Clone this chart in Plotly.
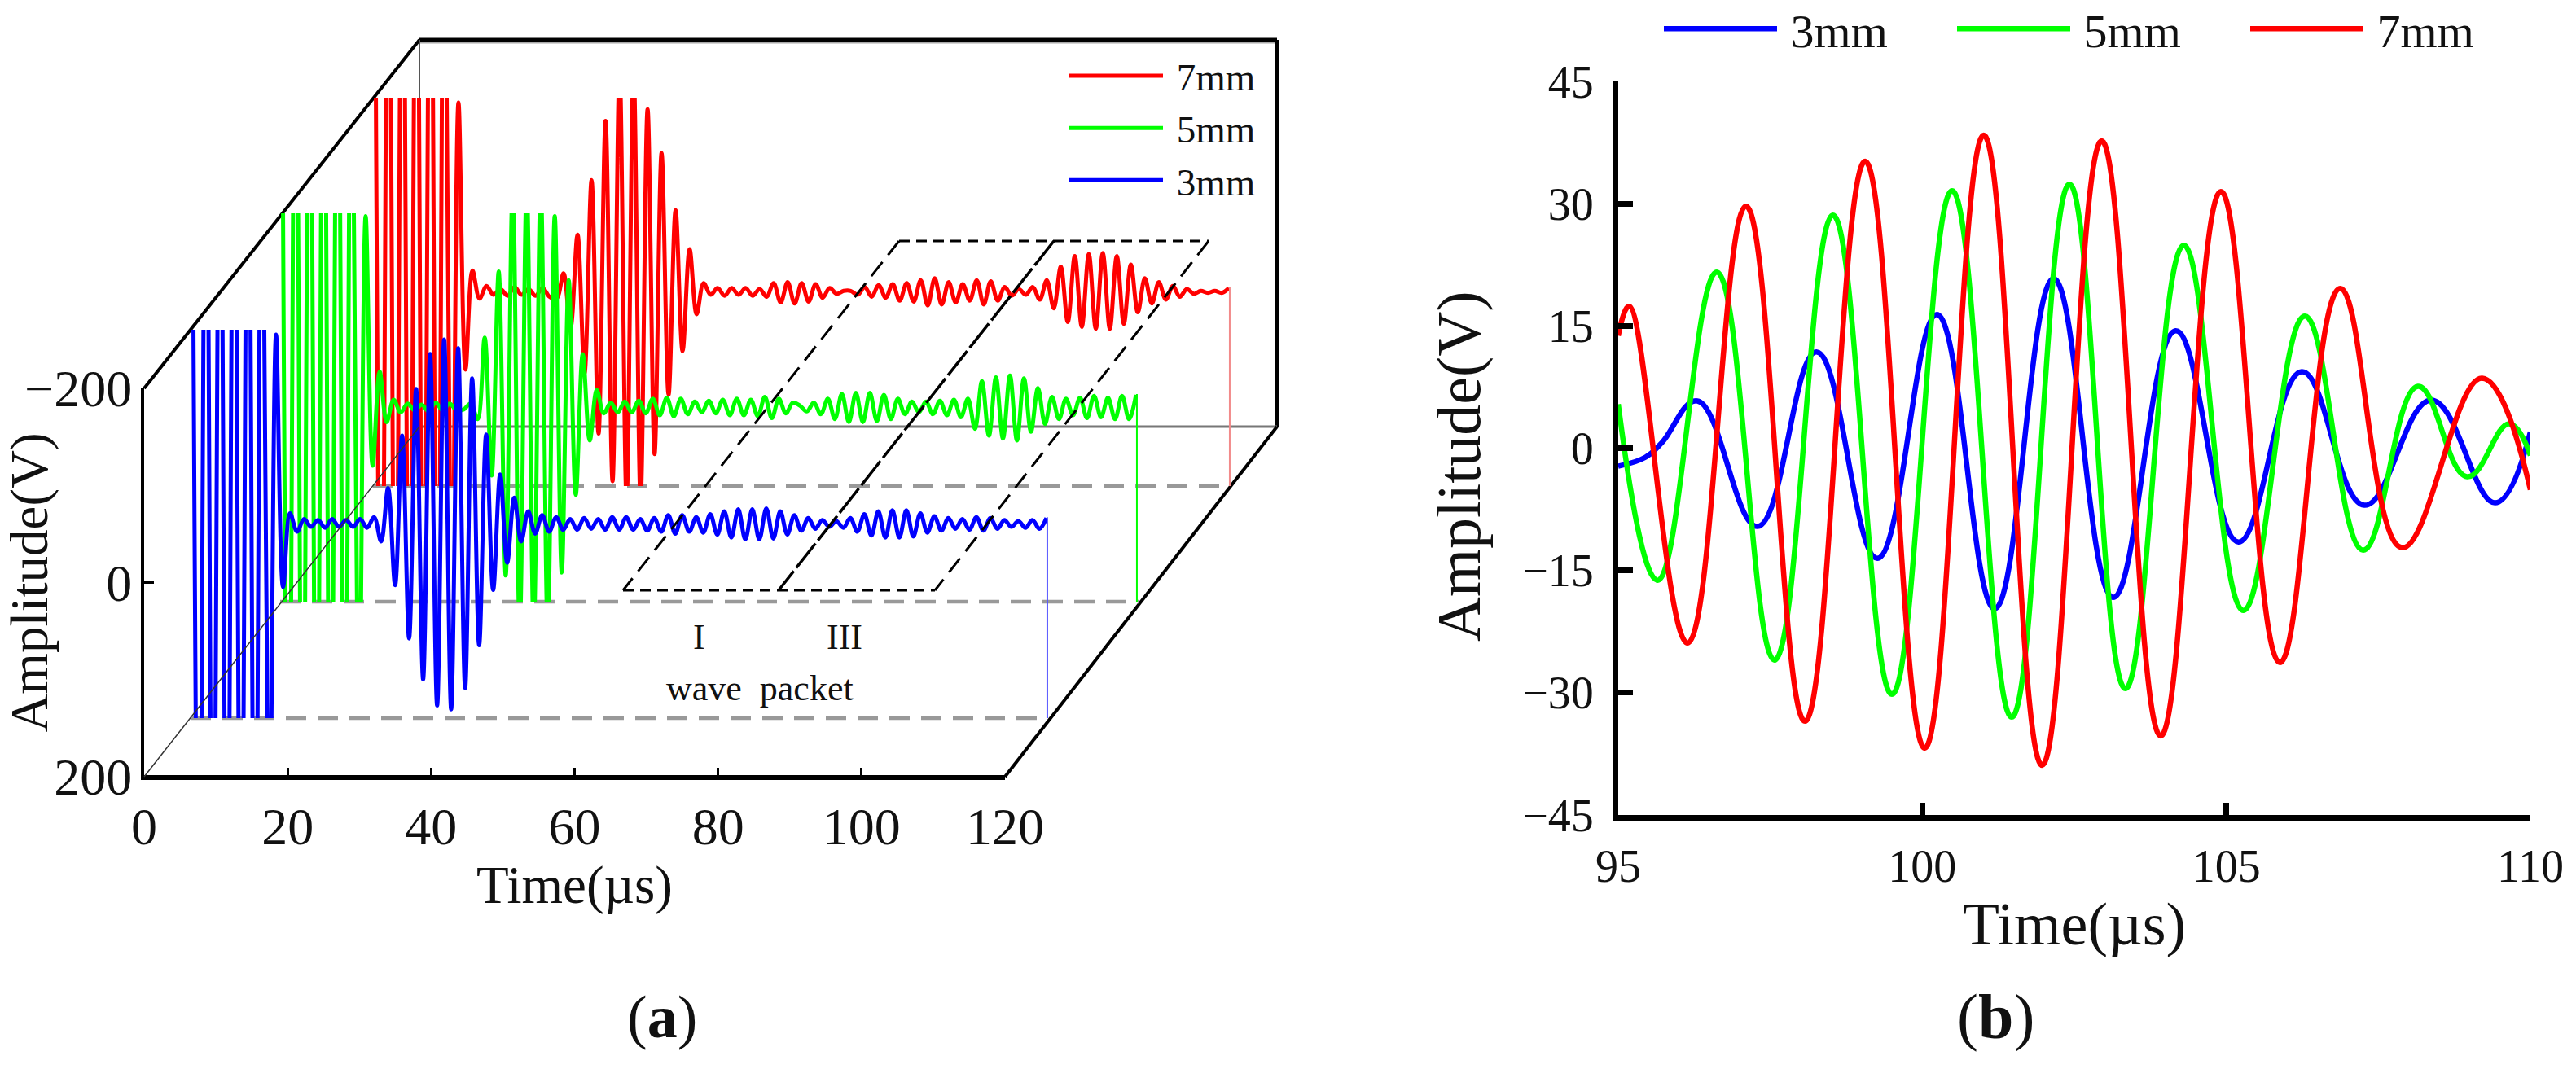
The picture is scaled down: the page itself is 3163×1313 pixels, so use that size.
import plotly.graph_objects as go

W, H = 3163, 1313
FONT = "Liberation Serif"
INK = "#111111"
RED, GREEN, BLUE = "#ff0000", "#00ff00", "#0000ff"

# ---- panel (a): peak-by-peak readings of the three waveforms
time_a = [0.2,1.18,2.16,3.14,4.12,5.1,6.08,7.06,8.04,9.02,10.0,10.98,11.96,12.94,13.92,14.9,15.88,16.86,17.84,18.82,
          19.8,20.78,21.76,22.74,23.72,24.7,25.68,26.66,27.64,28.62,29.6,30.58,31.56,32.54,33.52,34.5,35.48,36.46,37.44,38.42,
          39.4,40.38,41.36,42.34,43.32,44.3,45.28,46.26,47.24,48.22,49.2,50.18,51.16,52.14,53.12,54.1,55.08,56.06,57.04,58.02,
          59.0,59.98,60.96,61.94,62.92,63.9,64.88,65.86,66.84,67.82,68.8,69.78,70.76,71.74,72.72,73.7,74.68,75.66,76.64,77.62,
          78.6,79.58,80.56,81.54,82.52,83.5,84.48,85.46,86.44,87.42,88.4,89.38,90.36,91.34,92.32,93.3,94.28,95.26,96.24,97.22,
          98.2,99.18,100.16,101.14,102.12,103.1,104.08,105.06,106.04,107.02,108.0,108.98,109.96,110.94,111.92,112.9,113.88,114.86,115.84,116.82,
          117.8,118.78,119.76]
blue_a = [-500,500,-500,500,-500,500,-500,500,-500,500,-500,400,-195,65,-11,8,-5,3,-4,4,
          -5,3,-4,3,-5,4,-7,18,-37,63,-91,118,-139,160,-175,187,-190,191,-181,169,
          -150,125,-92,68,-51,40,-27,18,-13,10,-9,8,-7,6,-5,6,-6,5,-5,6,
          -7,6,-7,6,-5,7,-6,8,-9,10,-9,8,-7,9,-10,11,-13,14,-15,16,
          -15,16,-16,15,-13,11,-9,7,-6,5,-4,3,-3,4,-6,8,-10,12,-13,14,
          -14,14,-14,13,-11,9,-8,7,-6,5,-5,6,-7,7,-6,5,-4,3,-3,4,
          -4,5,-6]
green_a = [-500,500,-500,500,-500,500,-500,500,-500,500,-500,400,-197,60,-37,15,-8,5,-4,3,
           -3,4,-5,3,-4,3,2,-4,12,-72,70,-140,173,-230,230,-230,230,-230,230,-197,
           170,-131,90,-55,34,-18,6,-5,5,-6,5,-7,6,-9,8,-10,9,-9,7,-6,
           5,-7,6,-8,8,-9,8,-8,9,-11,11,-9,6,-5,-2,4,-5,7,-9,12,
           -14,15,-15,15,-15,14,-13,12,-9,7,-6,5,-6,7,-7,8,-8,10,-9,22,
           -27,29,-31,32,-33,34,-30,25,-20,17,-11,12,-9,8,-10,11,-12,10,-10,12,
           -12,12,-13]
red_a = [-500,500,-500,500,-500,500,-500,500,-500,500,-500,400,-195,80,-22,7,-6,3,-3,4,
         -5,3,-3,4,-4,5,7,-19,37,-59,84,-115,146,-176,195,-230,215,-230,215,-188,
         167,-143,106,-84,61,-44,23,-9,3,-4,4,-4,3,-4,4,-3,5,-9,11,-10,
         12,-9,10,-8,6,-4,2,-1,-1,3,-5,5,-7,6,-8,9,-9,10,-12,14,
         -14,13,-10,11,-8,9,-12,13,-11,9,-5,4,-3,3,-5,8,-12,17,-26,31,
         -37,36,-39,38,-40,38,-37,33,-28,21,-14,12,-10,8,-6,5,-3,2,-1,1,
         -1,1,-4]
assert len(time_a) == len(blue_a) == len(green_a) == len(red_a)
end_time = [119.76, 120]
x_ticks_a = [0, 20, 40, 60, 80, 100, 120]
y_ticks_a = [-200, 0, 200]

# ---- panel (b): extrema read from the zoomed window
blue_t = [95,95.45,95.72,96.3,97.29,98.26,99.26,100.24,101.19,102.16,103.14,104.17,105.2,106.24,107.27,108.37,109.42,110]
blue_v = [-2.2,-1.1,0.7,5.8,-9.6,11.8,-13.5,16.4,-19.7,20.8,-18.3,14.4,-11.5,9.4,-7.0,5.9,-6.7,2.0]
green_t = [95,95.65,96.62,97.57,98.53,99.5,100.49,101.47,102.42,103.34,104.3,105.28,106.29,107.25,108.15,108.96,109.65,110]
green_v = [5.4,-16.2,21.6,-26,28.6,-30.2,31.6,-33,32.4,-29.5,24.9,-19.9,16.2,-12.5,7.6,-3.5,3.0,-0.9]
red_t = [95,95.18,96.14,97.1,98.07,99.06,100.04,101.01,101.97,102.95,103.92,104.91,105.88,106.87,107.89,109.2,110]
red_v = [13.8,17.4,-23.9,29.7,-33.5,35.2,-36.8,38.4,-38.9,37.7,-35.3,31.5,-26.3,19.6,-12.2,8.6,-5.1]
x_ticks_b = [95, 100, 105, 110]
y_ticks_b = [-45, -30, -15, 0, 15, 30, 45]


def fx(px):
    return px / W


def fy(py):
    return 1 - py / H


def font(size, color=INK):
    return dict(family=FONT, size=size, color=color)


fig = go.Figure()

# front axes of panel (a)
fig.add_trace(go.Scatter(x=[0, 120], y=[200, 200], mode="lines", line=dict(color="black", width=4),
                         showlegend=False, hoverinfo="skip", xaxis="x", yaxis="y"))

planes = [("x2", "y2", "\u00a07mm", red_a, RED, "#f28a8a", 458),
          ("x3", "y3", "\u00a05mm", green_a, GREEN, GREEN, 344),
          ("x4", "y4", "\u00a03mm", blue_a, BLUE, "#5a5aff", 234)]
plane_bottom = {"x2": 597, "x3": 739, "x4": 882}
for xa, ya, name, vals, col, thin, left in planes:
    fig.add_trace(go.Scatter(x=time_a, y=vals, mode="lines", name=name, legend="legend",
                             line=dict(color=col, width=5, shape="spline", smoothing=1.0),
                             xaxis=xa, yaxis=ya))
    fig.add_trace(go.Scatter(x=end_time, y=[vals[-1], 200], mode="lines", showlegend=False,
                             line=dict(color=thin, width=2, shape="hvh"), xaxis=xa, yaxis=ya))

# panel (b)
for name, t, v, col in (("\u20093mm", blue_t, blue_v, BLUE), ("\u20095mm", green_t, green_v, GREEN), ("\u20097mm", red_t, red_v, RED)):
    fig.add_trace(go.Scatter(x=t, y=v, mode="lines", name=name, legend="legend2",
                             line=dict(color=col, width=6.5, shape="spline", smoothing=1.2),
                             xaxis="x5", yaxis="y5"))

layout_axes = dict(
    xaxis=dict(domain=[fx(177), fx(1234)], range=[0, 120], tickvals=x_ticks_a, ticks="inside", ticklen=11, tickwidth=3,
               tickcolor="black", showline=True, linecolor="black", linewidth=4, showgrid=False, zeroline=False,
               tickfont=font(64), ticklabelstandoff=2, anchor="y",
               title=dict(text="Time(µs)", font=font(65), standoff=14)),
    yaxis=dict(domain=[fy(954), fy(477)], range=[200, -200], tickvals=y_ticks_a, ticks="inside", ticklen=12, tickwidth=3,
               tickcolor="black", showline=True, linecolor="black", linewidth=4, showgrid=False, zeroline=False,
               tickfont=font(64), ticklabelstandoff=-2, anchor="x",
               title=dict(text="Amplitude(V)", font=font(65), standoff=12)),
    xaxis5=dict(domain=[fx(1987), fx(3107)], range=[95, 110], tickvals=x_ticks_b, ticks="inside", ticklen=15, tickwidth=7,
                tickcolor="black", showline=True, linecolor="black", linewidth=7, showgrid=False, zeroline=False,
                tickfont=font(56), ticklabelstandoff=8, anchor="y5",
                title=dict(text="Time(µs)", font=font(74), standoff=16)),
    yaxis5=dict(domain=[fy(1001), fy(100)], range=[-45, 45], tickvals=y_ticks_b, ticks="inside", ticklen=18, tickwidth=7,
                tickcolor="black", showline=True, linecolor="black", linewidth=7, showgrid=False, zeroline=False,
                tickfont=font(56), ticklabelstandoff=12, anchor="x5"),
)
for xa, ya, name, vals, col, thin, left in planes:
    xk = "xaxis" + xa[1:]
    yk = "yaxis" + ya[1:]
    bottom = plane_bottom[xa]
    layout_axes[xk] = dict(domain=[fx(left), fx(left + 1053)], range=[0, 120], visible=False, anchor=ya)
    layout_axes[yk] = dict(domain=[fy(bottom), fy(bottom - 477)], range=[200, -200], visible=False, anchor=xa)


def seg(x0, y0, x1, y1, color="black", width=3, dash="solid", layer="below"):
    return dict(type="line", xref="paper", yref="paper", x0=fx(x0), y0=fy(y0), x1=fx(x1), y1=fy(y1),
                line=dict(color=color, width=width, dash=dash), layer=layer)


GRAY_DASH = "25px,14px"
shapes = [
    seg(515, 52, 1568, 52, "#aaaaaa", 3),
    seg(515, 49, 1568, 49, "black", 5),
    seg(177, 477, 515, 49, "black", 4),
    seg(1568, 49, 1568, 524, "black", 4),
    seg(515, 49, 515, 524, "#555555", 2),
    seg(515, 524, 1568, 524, "#777777", 3),
    seg(1234, 954, 1568, 524, "black", 4),
    seg(458, 597, 1511, 597, "#999999", 4.5, GRAY_DASH),
    seg(344, 739, 1399, 739, "#999999", 4.5, GRAY_DASH),
    seg(234, 882, 1287, 882, "#999999", 4.5, GRAY_DASH),
    seg(177, 954, 515, 524, "#333333", 1.5, layer="above"),
    seg(1104, 296, 1484, 296, "black", 3, "13px,8px", "above"),
    seg(765, 725, 1148, 725, "black", 3, "13px,8px", "above"),
    seg(1104, 296, 765, 725, "black", 3, "22px,11px", "above"),
    seg(1294, 296, 956, 725, "black", 3.5, "38px,5px", "above"),
    seg(1484, 296, 1148, 725, "black", 3, "22px,11px", "above"),
]


def note(text, px, py, size, angle=0):
    return dict(text=text, xref="paper", yref="paper", x=fx(px), y=fy(py), xanchor="center", yanchor="middle",
                showarrow=False, font=font(size), textangle=angle)


annotations = [
    note("I", 858, 782, 44),
    note("III", 1037, 782, 44),
    note("wave\u00a0\u00a0packet", 933, 845, 44),
    note("(<b>a</b>)", 813, 1249, 74),
    note("(<b>b</b>)", 2450, 1248, 78),
    note("Amplitude(V)", 1791, 573, 76, -90),
]

fig.update_layout(
    width=W, height=H, margin=dict(l=0, r=0, t=0, b=0, pad=0, autoexpand=False), autosize=False,
    paper_bgcolor="white", plot_bgcolor="rgba(0,0,0,0)", font=font(47), hovermode=False,
    shapes=shapes, annotations=annotations,
    legend=dict(x=fx(1308), y=fy(56), xanchor="left", yanchor="top", bgcolor="rgba(0,0,0,0)", itemwidth=115,
                font=font(47), tracegroupgap=0),
    legend2=dict(x=fx(2038), y=fy(-9), xanchor="left", yanchor="top", orientation="h", bgcolor="rgba(0,0,0,0)",
                 itemwidth=139, font=font(58), entrywidth=206, entrywidthmode="pixels"),
    **layout_axes,
)

fig.write_html("out.html", post_script="document.body.style.margin='0';document.body.style.overflow='hidden';",
               config=dict(displayModeBar=False))
